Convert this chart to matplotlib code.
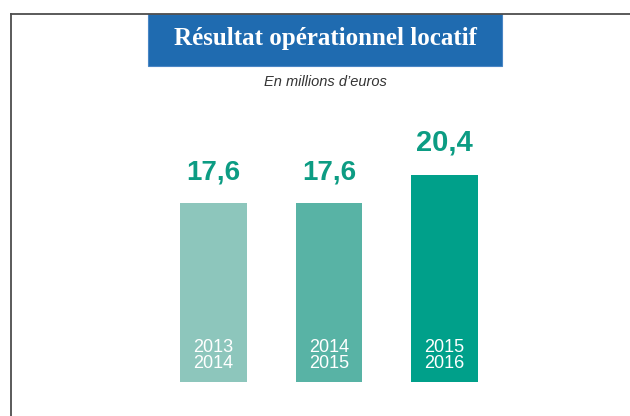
import matplotlib.pyplot as plt
from matplotlib.patches import Rectangle
from matplotlib.lines import Line2D

# Données
periodes = ["2013\n2014", "2014\n2015", "2015\n2016"]
valeurs = [17.6, 17.6, 20.4]
etiquettes = ["17,6", "17,6", "20,4"]
couleurs = ["#8dc6bc", "#58b3a5", "#00a08a"]

W, H = 630, 416
fig = plt.figure(figsize=(W / 100, H / 100), dpi=100)

def fx(px):
    return px / W

def fy(py):
    return 1 - py / H

# Cadre
fig.add_artist(Line2D([fx(11), fx(11)], [fy(14), 0], color="#4d4d4d", lw=1.3))
fig.add_artist(Line2D([fx(11), 1], [fy(14), fy(14)], color="#4d4d4d", lw=1.3))

# Bandeau du titre
fig.add_artist(Rectangle((fx(148), fy(66)), fx(502) - fx(148), fy(14) - fy(66),
                         facecolor="#1f6bb0", edgecolor="#4a86c5", lw=0.8))
fig.text(fx(325), fy(39), "Résultat opérationnel locatif", ha="center", va="center",
         color="white", fontsize=18, fontweight="bold", family="Liberation Serif")
fig.text(fx(325), fy(82), "En millions d\u2019euros", ha="center", va="center",
         color="#333333", fontsize=10.5, style="italic", family="Liberation Sans")

# Barres
ax = fig.add_axes([155.75 / W, (H - 382) / H, 346.5 / W, 253.8 / H])
x = range(len(valeurs))
ax.bar(x, valeurs, width=0.58, color=couleurs)
ax.set_xlim(-0.5, 2.5)
ax.set_ylim(0, 25)
ax.axis("off")

for i, v in enumerate(valeurs):
    ax.annotate(etiquettes[i], (i, v), xytext=(0, 13), textcoords="offset points",
                ha="center", va="bottom", color="#0c9c83",
                fontsize=20 if v < 20 else 21, fontweight="bold",
                family="Liberation Sans")
    ax.annotate(periodes[i], (i, 0), xytext=(0, 7), textcoords="offset points",
                ha="center", va="bottom", color="white",
                fontsize=13, linespacing=0.95, family="Liberation Sans")

fig.savefig("out.png", dpi=100)
